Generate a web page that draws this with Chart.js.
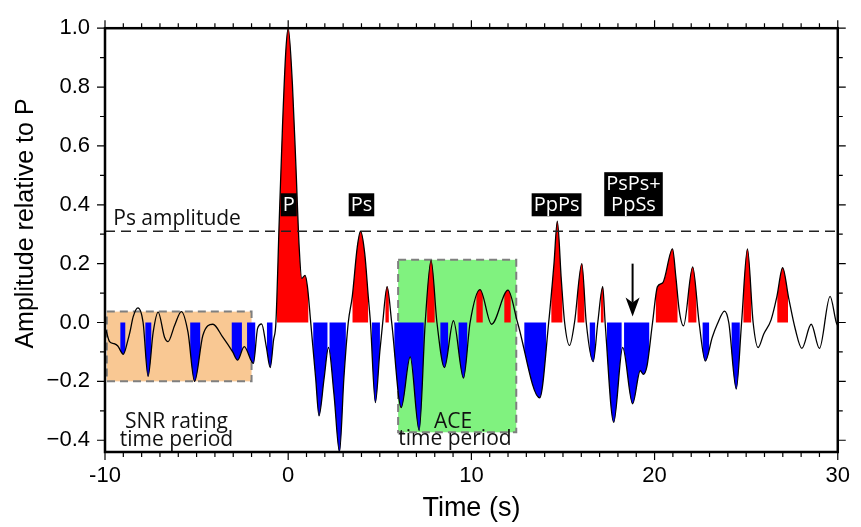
<!DOCTYPE html>
<html><head><meta charset="utf-8">
<script src="https://cdn.jsdelivr.net/npm/chart.js@4/dist/chart.umd.min.js"></script>
<style>html,body{margin:0;padding:0;background:#fff;}</style>
</head><body>
<canvas id="c" width="861" height="527"></canvas>
<script>
// ---- data ----
const times = [
 -9.95,-9.75,-9.5,-9.3,-9.0,-8.75,-8.64,-8.46,-8.2,-7.92,-7.65,-7.37,-7.1,-6.75,-6.56,-6.2,-5.83,-5.47,-5.11,-4.66,-4.11,-3.57,-3.03,-2.76,-2.4,-1.9,-1.67,-1.45,-1.2,-0.98,-0.8,-0.67,
 -0.49,-0.31,-0.13,0.0,0.23,0.42,0.6,0.74,0.92,1.05,1.23,1.5,1.68,1.96,2.2,2.5,2.8,3.04,3.28,3.5,3.77,3.95,4.18,4.37,4.49,4.76,5.0,5.16,5.4,5.65,
 6.17,6.66,7.15,7.48,7.8,8.12,8.53,9.02,9.57,9.93,10.47,11.1,12.0,12.52,13.73,14.22,14.51,14.69,14.91,15.09,15.36,15.63,16.03,16.27,16.65,16.9,17.17,17.3,
 17.77,18.26,18.8,19.22,19.38,19.58,19.89,20.16,20.45,20.98,21.16,21.34,21.58,22.08,22.43,22.77,23.15,23.42,23.82,24.05,24.46,24.75,25.07,25.38,25.65,25.96,
 26.36,26.68,26.99,27.32,27.68,28.04,28.55,29.0,29.58,29.92,29.99
];
const amps = [
 -0.025,-0.065,-0.072,-0.08,-0.108,-0.06,-0.033,0.02,0.05,0.0,-0.183,-0.033,0.035,-0.05,-0.065,-0.01,0.037,-0.033,-0.2,-0.044,-0.006,-0.05,-0.1,-0.128,-0.082,-0.139,-0.02,-0.005,-0.08,-0.153,-0.06,0.0,
 0.344,0.667,0.922,1.0,0.81,0.533,0.256,0.15,0.16,0.122,0.0,-0.189,-0.317,-0.19,-0.085,-0.244,-0.44,-0.189,0.0,0.089,0.256,0.31,0.233,0.089,0.0,-0.272,-0.1,0.0,0.122,0.0,
 -0.289,-0.117,-0.367,0.0,0.211,0.0,-0.153,0.006,-0.189,0.0,0.112,-0.006,0.11,0.0,-0.256,0.0,0.2,0.344,0.144,0.0,-0.078,0.0,0.2,0.0,-0.133,0.0,0.122,0.0,
 -0.339,-0.085,-0.276,-0.164,-0.176,-0.15,0.0,0.122,0.135,0.25,0.156,0.044,-0.011,0.189,0.0,-0.131,-0.05,-0.006,0.039,0.0,-0.226,0.0,0.25,0.0,-0.085,-0.039,
 0.009,0.089,0.186,0.083,-0.022,-0.088,-0.006,-0.088,0.089,0.0,-0.01
];
const xTickValues = [-10, 0, 10, 20, 30];
const xTickLabels = ['-10', '0', '10', '20', '30'];
const yTickValues = [-0.4, -0.2, 0.0, 0.2, 0.4, 0.6, 0.8, 1.0];
const yTickLabels = ['\u22120.4', '\u22120.2', '0.0', '0.2', '0.4', '0.6', '0.8', '1.0'];
const yTitle = 'Amplitude relative to P';
const fillThreshold = 0.095;
const psAmplitude = 0.31;
const snrWindow = [-9.9, -2.0, 0.037, -0.2];    // start, end, top, bottom
const aceWindow = [6.0, 12.45, 0.213, -0.373];
const phaseNames = ['P', 'Ps', 'PpPs', 'PsPs+\nPpSs'];
const phaseTimes = [0.03, 4.0, 14.65, 18.85];
const phaseAmps = [0.40, 0.40, 0.40, 0.436];
const arrowTime = 18.8, arrowFrom = 0.2, arrowTo = 0.02;

const ANN_FONT = '"Open Sans", "Noto Sans", sans-serif';
const AXIS_FONT = '"Liberation Sans", Arial, Helvetica, sans-serif';

function drawBox(chart, w, color) {
  const {ctx, scales: {x, y}} = chart;
  const x0 = x.getPixelForValue(w[0]), x1 = x.getPixelForValue(w[1]);
  const y0 = y.getPixelForValue(w[2]), y1 = y.getPixelForValue(w[3]);
  ctx.save();
  ctx.fillStyle = color;
  ctx.fillRect(x0, y0, x1 - x0, y1 - y0);
  ctx.setLineDash([8, 5]);
  ctx.strokeStyle = '#7f7f7f';
  ctx.lineWidth = 2;
  ctx.strokeRect(x0, y0, x1 - x0, y1 - y0);
  ctx.restore();
}

const wiggleFill = {
  id: 'wiggleFill',
  beforeDatasetsDraw(chart) {
    const {ctx, chartArea: ca, scales: {x, y}} = chart;
    drawBox(chart, snrWindow, '#f9c893');
    drawBox(chart, aceWindow, '#80f27f');
    const meta = chart.getDatasetMeta(0);
    meta.dataset.updateControlPoints(ca, 'x');
    const pts = meta.data;
    const S = [];
    for (let i = 0; i < pts.length - 1; i++) {
      const a = pts[i], b = pts[i + 1];
      const c1x = a.cp2x ?? a.x, c1y = a.cp2y ?? a.y, c2x = b.cp1x ?? b.x, c2y = b.cp1y ?? b.y;
      const n = 30;
      for (let k = 0; k < n; k++) {
        const t = k / n, u = 1 - t;
        S.push([u*u*u*a.x + 3*u*u*t*c1x + 3*u*t*t*c2x + t*t*t*b.x,
                u*u*u*a.y + 3*u*u*t*c1y + 3*u*t*t*c2y + t*t*t*b.y]);
      }
    }
    const L = pts[pts.length - 1];
    S.push([L.x, L.y]);
    const y0 = y.getPixelForValue(0);
    const runFill = (edge, inside, color) => {
      ctx.fillStyle = color;
      let open = false;
      for (let k = 0; k < S.length; k++) {
        const [px, py] = S[k];
        const inn = inside(py, edge);
        if (inn && !open) {
          let xs = px;
          if (k > 0) { const [qx, qy] = S[k - 1]; xs = qx + (px - qx) * (edge - qy) / (py - qy); }
          ctx.beginPath(); ctx.moveTo(xs, y0); ctx.lineTo(xs, edge); ctx.lineTo(px, py); open = true;
        } else if (inn && open) {
          ctx.lineTo(px, py);
        } else if (!inn && open) {
          const [qx, qy] = S[k - 1];
          const xe = qx + (px - qx) * (edge - qy) / (py - qy);
          ctx.lineTo(xe, edge); ctx.lineTo(xe, y0); ctx.closePath(); ctx.fill(); open = false;
        }
      }
      if (open) { ctx.lineTo(S[S.length - 1][0], y0); ctx.closePath(); ctx.fill(); }
    };
    ctx.save();
    ctx.beginPath(); ctx.rect(ca.left, ca.top, ca.width, ca.height); ctx.clip();
    runFill(y.getPixelForValue(fillThreshold), (py, e) => py < e, '#ff0000');
    runFill(y.getPixelForValue(-fillThreshold), (py, e) => py > e, '#0000ff');
    ctx.restore();
  },
  afterDatasetsDraw(chart) {
    const {ctx, chartArea: ca, scales: {x, y}} = chart;
    ctx.save();
    // Ps amplitude line
    const yp = y.getPixelForValue(psAmplitude);
    ctx.setLineDash([10, 6]);
    ctx.strokeStyle = '#222';
    ctx.lineWidth = 1.5;
    ctx.beginPath(); ctx.moveTo(ca.left, yp); ctx.lineTo(ca.right, yp); ctx.stroke();
    ctx.setLineDash([]);
    // texts
    ctx.fillStyle = '#111';
    ctx.font = '21px ' + ANN_FONT;
    ctx.textBaseline = 'alphabetic';
    ctx.textAlign = 'left';
    ctx.fillText('Ps amplitude', x.getPixelForValue(-9.55), y.getPixelForValue(0.332));
    ctx.textAlign = 'center';
    ctx.fillText('SNR rating', x.getPixelForValue(-6.1), y.getPixelForValue(-0.357));
    ctx.fillText('time period', x.getPixelForValue(-6.1), y.getPixelForValue(-0.42));
    ctx.fillText('ACE', x.getPixelForValue(9.0), y.getPixelForValue(-0.357));
    ctx.fillText('time period', x.getPixelForValue(9.1), y.getPixelForValue(-0.417));
    // phase labels
    ctx.font = '20px ' + ANN_FONT;
    phaseNames.forEach((name, i) => {
      const lines = name.split('\n');
      const cx = x.getPixelForValue(phaseTimes[i]), cy = y.getPixelForValue(phaseAmps[i]);
      const lh = 21;
      const w = Math.max(...lines.map(l => ctx.measureText(l).width)) + 4;
      const h = lines.length * lh + 2;
      ctx.fillStyle = '#000';
      ctx.fillRect(cx - w / 2, cy - h / 2, w, h);
      ctx.fillStyle = '#fff';
      ctx.textBaseline = 'middle';
      lines.forEach((l, j) => ctx.fillText(l, cx, cy - h / 2 + 1 + lh * (j + 0.5) + 1));
    });
    // arrow
    const ax = x.getPixelForValue(arrowTime);
    const ay0 = y.getPixelForValue(arrowFrom), ay1 = y.getPixelForValue(arrowTo);
    ctx.strokeStyle = '#000'; ctx.fillStyle = '#000'; ctx.lineWidth = 2;
    ctx.beginPath(); ctx.moveTo(ax, ay0); ctx.lineTo(ax, ay1 - 14); ctx.stroke();
    ctx.beginPath(); ctx.moveTo(ax, ay1); ctx.lineTo(ax - 7, ay1 - 19); ctx.lineTo(ax, ay1 - 14); ctx.lineTo(ax + 7, ay1 - 19); ctx.closePath(); ctx.fill();
    ctx.restore();
  },
  afterDraw(chart) {
    const {ctx, chartArea: ca, scales: {x, y}} = chart;
    ctx.save();
    ctx.strokeStyle = '#000';
    ctx.lineWidth = 1.2;
    ctx.beginPath();
    for (let t = -10; t <= 30; t++) {
      const px = x.getPixelForValue(t);
      const len = (t % 10 === 0) ? 8 : 5;
      ctx.moveTo(px, ca.bottom); ctx.lineTo(px, ca.bottom + len);
      ctx.moveTo(px, ca.top); ctx.lineTo(px, ca.top - len);
    }
    for (let k = -4; k <= 10; k++) {
      const py = y.getPixelForValue(k / 10);
      const len = (k % 2 === 0) ? 8 : 5;
      ctx.moveTo(ca.left, py); ctx.lineTo(ca.left - len, py);
      ctx.moveTo(ca.right, py); ctx.lineTo(ca.right + len, py);
    }
    ctx.stroke();
    ctx.lineWidth = 2.5;
    ctx.strokeRect(ca.left, ca.top, ca.right - ca.left, ca.bottom - ca.top);
    // y-axis title
    ctx.translate(26, 223.5);
    ctx.rotate(-Math.PI / 2);
    ctx.fillStyle = '#000';
    ctx.font = '25px ' + AXIS_FONT;
    ctx.textAlign = 'center';
    ctx.textBaseline = 'middle';
    ctx.fillText(yTitle, 0, 0);
    ctx.restore();
  }
};

const TICK_FONT = {family: AXIS_FONT, size: 22};
new Chart(document.getElementById('c'), {
  type: 'line',
  data: {
    datasets: [{
      data: times.map((t, i) => ({x: t, y: amps[i]})),
      borderColor: '#000',
      borderWidth: 1.3,
      pointRadius: 0,
      fill: false,
      cubicInterpolationMode: 'monotone'
    }]
  },
  options: {
    responsive: false,
    devicePixelRatio: 1,
    animation: false,
    layout: {padding: {left: 0, right: 21, top: 20, bottom: 0}},
    plugins: {legend: {display: false}, tooltip: {enabled: false}},
    scales: {
      x: {
        type: 'linear', min: -10, max: 30,
        grid: {display: false, drawTicks: false},
        border: {display: false},
        afterBuildTicks: s => { s.ticks = xTickValues.map(v => ({value: v})); },
        afterFit: s => { s.height = 75; },
        ticks: {color: '#000', font: TICK_FONT, padding: 11, maxRotation: 0,
          callback: (v) => xTickLabels[xTickValues.indexOf(v)]},
        title: {display: true, text: 'Time (s)', color: '#000',
          font: {family: AXIS_FONT, size: 27}, padding: {top: 0, bottom: 2}}
      },
      y: {
        min: -0.44, max: 1.0,
        grid: {display: false, drawTicks: false},
        border: {display: false},
        afterBuildTicks: s => { s.ticks = yTickValues.map(v => ({value: v})); },
        afterFit: s => { s.width = 105; },
        ticks: {color: '#000', font: TICK_FONT, padding: 15,
          callback: (v) => yTickLabels[yTickValues.findIndex(q => Math.abs(q - v) < 1e-6)]},
        title: {display: false}
      }
    }
  },
  plugins: [wiggleFill]
});
</script>
</body></html>
